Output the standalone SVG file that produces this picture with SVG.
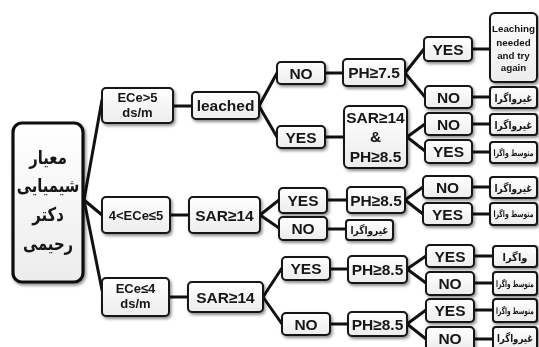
<svg xmlns="http://www.w3.org/2000/svg" width="539" height="347" viewBox="0 0 539 347">
<defs>
<filter id="sh" x="-20%" y="-20%" width="150%" height="160%">
<feDropShadow dx="1.5" dy="2" stdDeviation="1.5" flood-color="#000" flood-opacity="0.45"/>
</filter>
<linearGradient id="g" x1="0" y1="0" x2="0" y2="1">
<stop offset="0" stop-color="#ffffff"/>
<stop offset="1" stop-color="#ececec"/>
</linearGradient>
</defs>
<style>
.box{fill:url(#g);stroke:#141414;stroke-width:2}
.main{fill:url(#g);stroke:#111;stroke-width:3.2}
.n{filter:url(#sh)}
.t{font-family:"Liberation Sans",Arial,sans-serif;font-weight:bold;fill:#151515;text-anchor:middle}
.b{font-size:15.5px}
.m{font-size:13px}
.s{font-size:9.8px}
.fa{font-family:"DejaVu Sans",sans-serif;font-weight:bold;fill:#151515;text-anchor:middle}
.fl{font-size:19px}
.fg{font-size:11px}
.fm{font-size:9px}
.c line{stroke:#111;stroke-width:3;stroke-linecap:round}
</style>
<rect width="539" height="347" fill="#fff"/>
<g class="c" id="connectors">
<line x1="84" y1="200" x2="102" y2="100"/>
<line x1="84" y1="200" x2="102" y2="215"/>
<line x1="84" y1="200" x2="102" y2="290"/>
<line x1="173" y1="106" x2="192" y2="106"/>
<line x1="259" y1="106" x2="277" y2="73"/>
<line x1="259" y1="106" x2="277" y2="137"/>
<line x1="325" y1="73" x2="343" y2="73"/>
<line x1="325" y1="137" x2="344" y2="137"/>
<line x1="405" y1="73" x2="424" y2="49"/>
<line x1="405" y1="73" x2="425" y2="97"/>
<line x1="472" y1="49" x2="490" y2="49"/>
<line x1="472" y1="97" x2="490" y2="97"/>
<line x1="407" y1="137" x2="425" y2="124"/>
<line x1="407" y1="137" x2="425" y2="151"/>
<line x1="472" y1="124" x2="490" y2="124"/>
<line x1="472" y1="152" x2="490" y2="152"/>
<line x1="170" y1="215" x2="189" y2="215"/>
<line x1="260" y1="215" x2="279" y2="200"/>
<line x1="260" y1="215" x2="279" y2="228"/>
<line x1="327" y1="200" x2="347" y2="200"/>
<line x1="327" y1="229" x2="346" y2="229"/>
<line x1="405" y1="200" x2="423" y2="187"/>
<line x1="405" y1="200" x2="423" y2="214"/>
<line x1="472" y1="187" x2="490" y2="187"/>
<line x1="472" y1="214" x2="490" y2="214"/>
<line x1="169" y1="297" x2="188" y2="297"/>
<line x1="263" y1="297" x2="282" y2="268"/>
<line x1="263" y1="297" x2="282" y2="324"/>
<line x1="330" y1="269" x2="348" y2="269"/>
<line x1="330" y1="324" x2="348" y2="324"/>
<line x1="407" y1="269" x2="426" y2="256"/>
<line x1="407" y1="269" x2="426" y2="283"/>
<line x1="407" y1="324" x2="426" y2="310"/>
<line x1="407" y1="324" x2="426" y2="339"/>
<line x1="474" y1="256" x2="493" y2="256"/>
<line x1="474" y1="283" x2="493" y2="283"/>
<line x1="474" y1="310" x2="493" y2="310"/>
<line x1="474" y1="339" x2="493" y2="339"/>
</g>
<g id="main" class="n"><rect class="main" x="13" y="123" width="70" height="159" rx="9"/>
<text class="fa fl" transform="translate(48,164) scale(0.78,1)">معیار</text>
<text class="fa fl" transform="translate(48,192) scale(0.78,1)">شیمیایی</text>
<text class="fa fl" transform="translate(48,221) scale(0.78,1)">دکتر</text>
<text class="fa fl" transform="translate(48,250) scale(0.78,1)">رحیمی</text></g>
<g id="ece5" class="n"><rect class="box" x="102" y="88" width="71" height="35" rx="4"/>
<text class="t m" x="137.5" y="102">ECe&gt;5</text><text class="t m" x="137.5" y="117">ds/m</text></g>
<g id="leached" class="n"><rect class="box" x="192" y="92" width="67" height="27" rx="4"/>
<text class="t b" x="225.5" y="111">leached</text></g>
<g id="ecemid" class="n"><rect class="box" x="102" y="197" width="68" height="36" rx="4"/>
<text class="t m" x="136" y="220">4&lt;ECe≤5</text></g>
<g id="sarmid" class="n"><rect class="box" x="189" y="197" width="71" height="36" rx="4"/>
<text class="t b" x="224.5" y="220.5">SAR≥14</text></g>
<g id="ece4" class="n"><rect class="box" x="102" y="278" width="67" height="38" rx="4"/>
<text class="t m" x="135.5" y="293">ECe≤4</text><text class="t m" x="135.5" y="308">ds/m</text></g>
<g id="sarbot" class="n"><rect class="box" x="188" y="282" width="75" height="30" rx="4"/>
<text class="t b" x="225.5" y="302.5">SAR≥14</text></g>
<g id="no1" class="n"><rect class="box" x="277" y="62" width="48" height="22" rx="4"/>
<text class="t b" x="301" y="78.5">NO</text></g>
<g id="ph75" class="n"><rect class="box" x="343" y="59" width="62" height="27" rx="4"/>
<text class="t b" x="374" y="78">PH≥7.5</text></g>
<g id="yes1" class="n"><rect class="box" x="277" y="126" width="48" height="22" rx="4"/>
<text class="t b" x="301" y="142.5">YES</text></g>
<g id="sarph" class="n"><rect class="box" x="344" y="106" width="63" height="62" rx="5"/>
<text class="t b" x="375.5" y="123">SAR≥14</text><text class="t b" x="375.5" y="142">&amp;</text><text class="t b" x="375.5" y="162">PH≥8.5</text></g>
<g id="yesa" class="n"><rect class="box" x="424" y="37" width="48" height="24" rx="4"/>
<text class="t b" x="448" y="54.5">YES</text></g>
<g id="leach" class="n"><rect class="box" x="490" y="13" width="47" height="69" rx="5"/>
<text class="t s" x="513.5" y="32">Leaching</text><text class="t s" x="513.5" y="46">needed</text><text class="t s" x="513.5" y="59">and try</text><text class="t s" x="513.5" y="71">again</text></g>
<g id="noa" class="n"><rect class="box" x="425" y="86" width="47" height="22" rx="4"/>
<text class="t b" x="448.5" y="102.5">NO</text></g>
<g id="gha" class="n"><rect class="box" x="490" y="87" width="47" height="21" rx="3"/>
<text class="fa fg" transform="translate(513.5,101.5) scale(0.82,1)">غیرواگرا</text></g>
<g id="nob" class="n"><rect class="box" x="425" y="113" width="47" height="22" rx="4"/>
<text class="t b" x="448.5" y="129.5">NO</text></g>
<g id="ghb" class="n"><rect class="box" x="490" y="114" width="47" height="21" rx="3"/>
<text class="fa fg" transform="translate(513.5,128.5) scale(0.82,1)">غیرواگرا</text></g>
<g id="yesb" class="n"><rect class="box" x="425" y="140" width="47" height="23" rx="4"/>
<text class="t b" x="448.5" y="157">YES</text></g>
<g id="motb" class="n"><rect class="box" x="490" y="142" width="47" height="21" rx="3"/>
<text class="fa fm" transform="translate(513.5,155.5) scale(0.68,1)">متوسط واگرا</text></g>
<g id="yesm" class="n"><rect class="box" x="279" y="188" width="48" height="25" rx="4"/>
<text class="t b" x="303" y="206">YES</text></g>
<g id="nom" class="n"><rect class="box" x="279" y="217" width="48" height="23" rx="4"/>
<text class="t b" x="303" y="234">NO</text></g>
<g id="phm" class="n"><rect class="box" x="347" y="187" width="58" height="26" rx="4"/>
<text class="t b" x="376" y="205.5">PH≥8.5</text></g>
<g id="ghm" class="n"><rect class="box" x="346" y="220" width="47" height="20" rx="3"/>
<text class="fa fg" transform="translate(369.5,234) scale(0.82,1)">غیرواگرا</text></g>
<g id="nom2" class="n"><rect class="box" x="423" y="176" width="49" height="22" rx="4"/>
<text class="t b" x="447.5" y="192.5">NO</text></g>
<g id="ghm2" class="n"><rect class="box" x="490" y="177" width="47" height="21" rx="3"/>
<text class="fa fg" transform="translate(513.5,191.5) scale(0.82,1)">غیرواگرا</text></g>
<g id="yesm2" class="n"><rect class="box" x="423" y="203" width="49" height="22" rx="4"/>
<text class="t b" x="447.5" y="219.5">YES</text></g>
<g id="motm2" class="n"><rect class="box" x="490" y="203" width="47" height="22" rx="3"/>
<text class="fa fm" transform="translate(513.5,217) scale(0.68,1)">متوسط واگرا</text></g>
<g id="yesbot" class="n"><rect class="box" x="282" y="257" width="48" height="23" rx="4"/>
<text class="t b" x="306" y="274">YES</text></g>
<g id="phb1" class="n"><rect class="box" x="348" y="256" width="59" height="27" rx="4"/>
<text class="t b" x="377.5" y="275">PH≥8.5</text></g>
<g id="nobot" class="n"><rect class="box" x="282" y="313" width="48" height="22" rx="4"/>
<text class="t b" x="306" y="329.5">NO</text></g>
<g id="phb2" class="n"><rect class="box" x="348" y="312" width="59" height="24" rx="4"/>
<text class="t b" x="377.5" y="329.5">PH≥8.5</text></g>
<g id="yesc" class="n"><rect class="box" x="426" y="245" width="48" height="22" rx="4"/>
<text class="t b" x="450" y="261.5">YES</text></g>
<g id="vag" class="n"><rect class="box" x="493" y="246" width="44" height="21" rx="3"/>
<text class="fa fg" transform="translate(515,260.5) scale(0.9,1)">واگرا</text></g>
<g id="noc" class="n"><rect class="box" x="426" y="272" width="48" height="23" rx="4"/>
<text class="t b" x="450" y="289">NO</text></g>
<g id="motc" class="n"><rect class="box" x="493" y="272" width="44" height="23" rx="3"/>
<text class="fa fm" transform="translate(515,287) scale(0.64,1)">متوسط واگرا</text></g>
<g id="yesd" class="n"><rect class="box" x="426" y="299" width="48" height="23" rx="4"/>
<text class="t b" x="450" y="316">YES</text></g>
<g id="motd" class="n"><rect class="box" x="493" y="299" width="44" height="23" rx="3"/>
<text class="fa fm" transform="translate(515,314) scale(0.64,1)">متوسط واگرا</text></g>
<g id="nod" class="n"><rect class="box" x="426" y="327" width="48" height="24" rx="4"/>
<text class="t b" x="450" y="344">NO</text></g>
<g id="ghd" class="n"><rect class="box" x="493" y="327" width="44" height="24" rx="3"/>
<text class="fa fg" transform="translate(515,342) scale(0.78,1)">غیرواگرا</text></g>
</svg>
